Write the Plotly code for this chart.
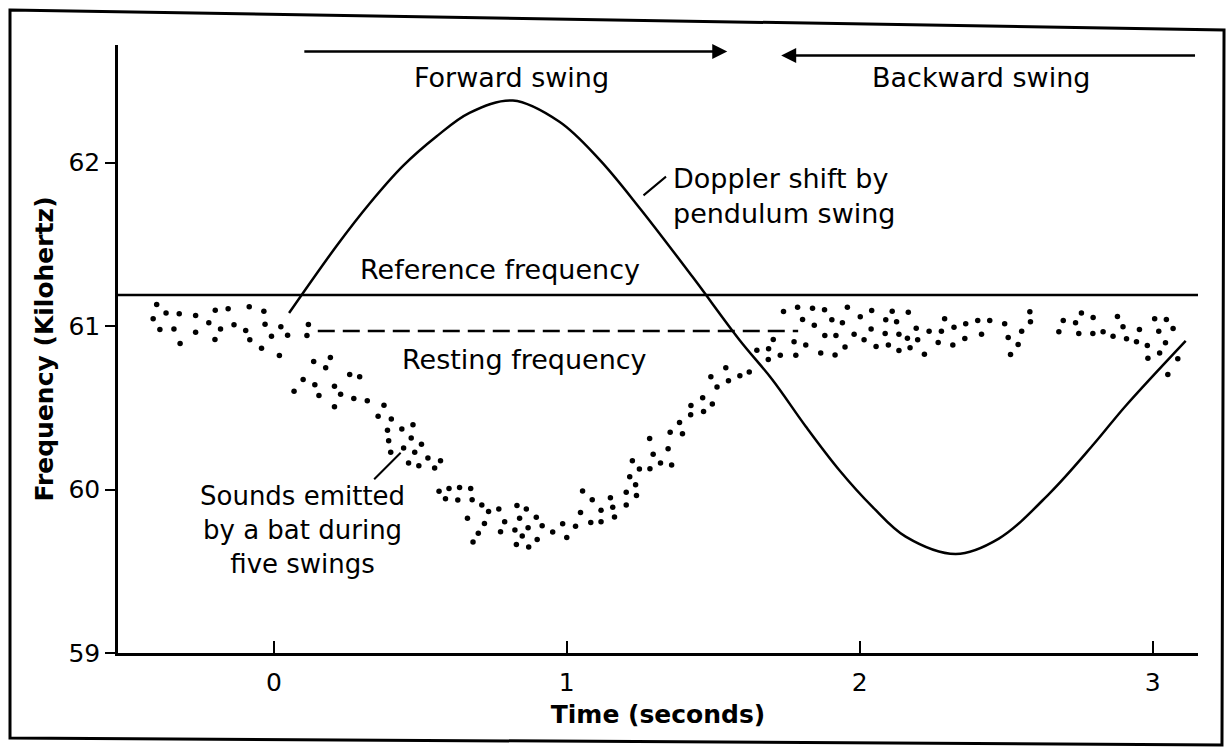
import plotly.graph_objects as go

# ---------------- data ----------------
# Doppler shift curve produced by the pendulum swing (time s, frequency kHz)
curve_time = [0.052, 0.214, 0.327, 0.441, 0.555, 0.668, 0.816, 0.975, 1.111, 1.25,
              1.43, 1.589, 1.702, 1.816, 1.93, 2.043, 2.157, 2.328, 2.475, 2.65,
              2.80, 2.907, 3.113]
curve_freq = [61.08, 61.49, 61.75, 61.98, 62.16, 62.305, 62.38, 62.25, 62.02, 61.72,
              61.30, 60.917, 60.672, 60.386, 60.12, 59.896, 59.712, 59.606, 59.70, 59.98,
              60.28, 60.51, 60.91]

# Sounds emitted by the bat (each dot = one sound)
dot_time = [
    -0.400, -0.368, -0.412, -0.323, -0.389, -0.341, -0.320, -0.267, -0.267, -0.200,
    -0.156, -0.222, -0.182, -0.201, -0.136, -0.084, -0.034, -0.096, -0.082, -0.030,
    0.024, -0.008, 0.047, -0.042, 0.019, 0.118, 0.113, 0.193, 0.136, 0.177,
    0.259, 0.293, 0.100, 0.069, 0.140, 0.154, 0.207, 0.228, 0.207, 0.273,
    0.319, 0.376, 0.356, 0.401, 0.388, 0.437, 0.475, 0.392, 0.469, 0.504,
    0.399, 0.443, 0.481, 0.526, 0.460, 0.495, 0.549,
    0.569, 0.564, 0.598, 0.634, 0.672, 0.586, 0.628, 0.677, 0.710, 0.733,
    0.768, 0.661, 0.719, 0.698, 0.680, 0.788, 0.774, 0.830, 0.862, 0.839,
    0.896, 0.868, 0.823, 0.916, 0.848, 0.899, 0.828, 0.870, 0.952, 0.986,
    1.000, 1.030, 1.054, 1.047, 1.087, 1.082, 1.117, 1.117, 1.149, 1.157,
    1.163, 1.203, 1.203, 1.215, 1.235, 1.238, 1.224, 1.248, 1.283, 1.295,
    1.284, 1.320, 1.346, 1.353, 1.358, 1.385, 1.395, 1.424, 1.423, 1.464,
    1.467, 1.497, 1.513, 1.552,
    1.492, 1.543, 1.591, 1.623, 1.649, 1.689, 1.688, 1.705, 1.729, 1.782,
    1.776, 1.740, 1.788, 1.805, 1.839, 1.845, 1.880, 1.905, 1.881, 1.816,
    1.867, 1.916, 1.919, 1.941, 1.950, 1.958, 1.981, 2.002, 2.015, 2.041,
    2.039, 2.056, 2.089, 2.111, 2.126, 2.087, 2.098, 2.134, 2.134, 2.166,
    2.163, 2.172, 2.193, 2.198, 2.221, 2.237, 2.268, 2.279, 2.290, 2.318,
    2.322, 2.359, 2.362, 2.403, 2.416, 2.444, 2.495, 2.507, 2.541, 2.515,
    2.553, 2.581, 2.583, 2.680, 2.695, 2.737, 2.757, 2.748, 2.797, 2.796,
    2.831, 2.865, 2.880, 2.899, 2.911, 2.955, 2.945, 2.982, 3.007, 3.047,
    3.021, 3.070, 3.044, 3.024, 2.984, 3.086, 3.052,
]
dot_freq = [
    61.132, 61.081, 61.045, 61.075, 60.979, 60.983, 60.893, 61.065, 60.963, 61.097,
    61.106, 61.020, 60.983, 60.918, 61.008, 61.118, 61.091, 60.973, 60.916, 61.012,
    60.996, 60.938, 60.944, 60.865, 60.820, 61.010, 60.942, 60.808, 60.783, 60.746,
    60.704, 60.690, 60.673, 60.601, 60.641, 60.575, 60.632, 60.583, 60.506, 60.557,
    60.543, 60.516, 60.448, 60.432, 60.363, 60.371, 60.397, 60.298, 60.316, 60.277,
    60.228, 60.255, 60.228, 60.193, 60.163, 60.146, 60.132,
    60.177, 59.989, 60.007, 60.013, 60.006, 59.944, 59.936, 59.938, 59.906, 59.865,
    59.881, 59.824, 59.793, 59.732, 59.679, 59.803, 59.742, 59.903, 59.881, 59.824,
    59.830, 59.767, 59.753, 59.779, 59.716, 59.695, 59.664, 59.648, 59.740, 59.791,
    59.707, 59.775, 59.991, 59.860, 59.938, 59.799, 59.873, 59.803, 59.950, 59.891,
    59.832, 59.983, 59.906, 60.079, 60.030, 59.963, 60.177, 60.126, 60.312, 60.216,
    60.128, 60.163, 60.249, 60.350, 60.151, 60.410, 60.342, 60.514, 60.457, 60.561,
    60.477, 60.524, 60.628, 60.665,
    60.690, 60.746, 60.697, 60.720, 60.852, 60.861, 60.795, 60.918, 60.822, 60.822,
    60.904, 61.089, 61.116, 61.040, 61.110, 61.006, 61.100, 61.039, 60.942, 60.885,
    60.836, 60.824, 60.942, 61.020, 60.873, 61.116, 60.950, 61.057, 60.916, 61.096,
    60.983, 60.875, 61.039, 61.091, 61.026, 60.955, 60.885, 60.851, 60.950, 61.085,
    60.926, 60.867, 60.987, 60.916, 60.828, 60.969, 60.900, 60.969, 61.045, 60.885,
    60.993, 60.924, 61.014, 61.034, 60.950, 61.034, 61.014, 60.930, 60.887, 60.826,
    60.969, 61.088, 61.026, 60.965, 61.034, 61.020, 61.081, 60.955, 61.053, 60.955,
    60.965, 60.938, 61.059, 60.996, 60.922, 60.979, 60.904, 60.881, 61.045, 61.040,
    60.969, 60.985, 60.898, 60.836, 60.803, 60.800, 60.704,
]
assert len(dot_time) == len(dot_freq)

reference_freq = 61.19           # kHz, solid horizontal line
resting_freq = 60.97             # kHz, dashed line
resting_span = [0.15, 1.79]      # s, extent of the dashed line

x_range = [-0.532, 3.155]
y_range = [59.0, 62.72]
x_ticks = [0, 1, 2, 3]
y_ticks = [59, 60, 61, 62]

forward_span = [0.099, 1.548]    # s, arrow "Forward swing"
backward_span = [3.150, 1.732]   # s, arrow "Backward swing" (points left)
arrow_freq_fwd = 62.68
arrow_freq_bwd = 62.655

FONT = "DejaVu Sans"

fig = go.Figure()

# reference frequency
fig.add_trace(go.Scatter(x=x_range, y=[reference_freq, reference_freq], mode="lines",
                         line=dict(color="black", width=2.5), hoverinfo="skip"))
# resting frequency
fig.add_trace(go.Scatter(x=resting_span, y=[resting_freq, resting_freq], mode="lines",
                         line=dict(color="black", width=2.5, dash="17px,8px"), hoverinfo="skip"))
# doppler curve
fig.add_trace(go.Scatter(x=curve_time, y=curve_freq, mode="lines",
                         line=dict(color="black", width=2.5, shape="spline", smoothing=1.0)))
# bat sounds
fig.add_trace(go.Scatter(x=dot_time, y=dot_freq, mode="markers",
                         marker=dict(color="black", size=5.5, line=dict(width=0))))

txt = dict(family=FONT, size=27, color="black")
annotations = [
    dict(x=0.811, y=62.52, text="Forward swing", showarrow=False, font=txt),
    dict(x=2.414, y=62.52, text="Backward swing", showarrow=False, font=txt),
    dict(x=0.771, y=61.345, text="Reference frequency", showarrow=False, font=txt),
    dict(x=0.856, y=60.794, text="Resting frequency", showarrow=False, font=txt),
    dict(x=1.357, y=61.795, text="Doppler shift by<br>pendulum swing", showarrow=False,
         xanchor="left", align="left", font=txt),
    dict(x=0.099, y=59.75, text="Sounds emitted<br>by a bat during<br>five swings",
         showarrow=False, align="center", font=dict(family=FONT, size=26, color="black")),
    # pointer lines
    dict(x=1.262, y=61.80, text="", showarrow=True, arrowhead=0, arrowwidth=2,
         arrowcolor="black", ax=24, ay=-20),
    dict(x=0.433, y=60.225, text="", showarrow=True, arrowhead=0, arrowwidth=2,
         arrowcolor="black", ax=-28, ay=28),
    # swing arrows
    dict(x=forward_span[1], y=arrow_freq_fwd, ax=forward_span[0], ay=arrow_freq_fwd,
         xref="x", yref="y", axref="x", ayref="y", text="", showarrow=True,
         arrowhead=2, arrowsize=1.2, arrowwidth=2.5, arrowcolor="black"),
    dict(x=backward_span[1], y=arrow_freq_bwd, ax=backward_span[0], ay=arrow_freq_bwd,
         xref="x", yref="y", axref="x", ayref="y", text="", showarrow=True,
         arrowhead=2, arrowsize=1.2, arrowwidth=2.5, arrowcolor="black"),
]

# outer frame of the scanned figure (paper coordinates)
frame = dict(type="path", xref="paper", yref="paper",
             path="M -0.1,1.0576 L 1.0241,1.0247 L 1.0222,-0.1513 L -0.1,-0.1398 Z",
             line=dict(color="black", width=3), fillcolor="rgba(0,0,0,0)", layer="below")

fig.update_layout(
    width=1231, height=750,
    margin=dict(l=118, r=33, t=45, b=97),
    paper_bgcolor="white", plot_bgcolor="white",
    showlegend=False,
    font=dict(family=FONT, color="black"),
    annotations=annotations,
    shapes=[frame],
)
fig.update_xaxes(range=x_range, tickvals=x_ticks, ticks="inside", ticklen=12, tickwidth=2,
                 tickcolor="black", showline=True, linecolor="black", linewidth=3,
                 showgrid=False, zeroline=False, tickfont=dict(family=FONT, size=25),
                 ticklabelstandoff=5,
                 title=dict(text="<b>Time (seconds)</b>", font=dict(family=FONT, size=25),
                            standoff=10))
fig.update_yaxes(range=y_range, tickvals=y_ticks, ticks="outside", ticklen=10, tickwidth=2,
                 tickcolor="black", showline=True, linecolor="black", linewidth=2.5,
                 showgrid=False, zeroline=False, tickfont=dict(family=FONT, size=25),
                 title=dict(text="<b>Frequency (Kilohertz)</b>", font=dict(family=FONT, size=25),
                            standoff=8))

fig.write_html("out.html", config={"displayModeBar": False},
               post_script="document.body.style.margin='0';")
